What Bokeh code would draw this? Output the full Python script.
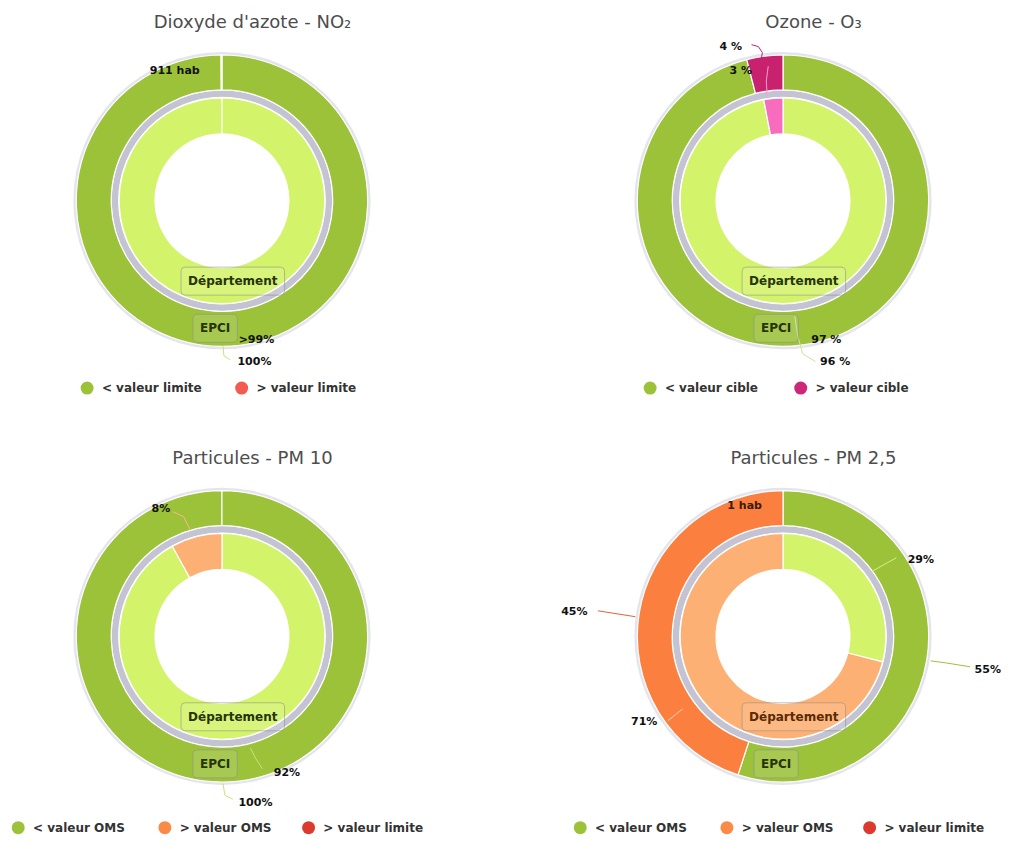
import math
from bokeh.plotting import figure
from bokeh.models import Range1d, Label
from bokeh.embed import file_html
from bokeh.resources import INLINE
from bokeh.core.properties import value

# ------------------------------------------------------------------ data
titles = ["Dioxyde d'azote - NO₂", "Ozone - O₃", "Particules - PM 10", "Particules - PM 2,5"]

no2_cats = ["< valeur limite", "> valeur limite"]
no2_epci = [99.9, 0.1]          # outer ring (EPCI)
no2_dept = [100.0, 0.0]         # inner ring (Département)

o3_cats = ["< valeur cible", "> valeur cible"]
o3_epci = [96.0, 4.0]
o3_dept = [97.0, 3.0]

pm_cats = ["< valeur OMS", "> valeur OMS", "> valeur limite"]
pm10_epci = [100.0, 0.0, 0.0]
pm10_dept = [92.0, 8.0, 0.0]
pm25_epci = [55.0, 45.0, 0.0]
pm25_dept = [29.0, 71.0, 0.0]

ring_names = ["Département", "EPCI"]

no2_labels = ["911 hab", ">99%", "100%"]
o3_labels = ["4 %", "3 %", "97 %", "96 %"]
pm10_labels = ["8%", "92%", "100%"]
pm25_labels = ["1 hab", "29%", "55%", "45%", "71%"]

# ------------------------------------------------------------------ styles / layout
FONT = "DejaVu Sans"
G_OUT, G_IN = "#9cc23a", "#d3f36b"
R_OUT, R_IN = "#f25c50", "#f7857c"
M_OUT, M_IN = "#c8216e", "#f86cbd"
O_OUT, O_IN = "#fb8040", "#fdb073"
L_OUT, L_IN = "#dc3a2e", "#e85a4f"

R_HOLE, R_IN_OUT = 68, 104.5
R_BAND0, R_BAND1 = 105.5, 112
R_OUT_IN, R_OUT_OUT = 112.5, 148

charts = [
    dict(title=titles[0], c=(225, 204), cats=no2_cats, outer=no2_epci, inner=no2_dept,
         oc=[G_OUT, R_OUT], ic=[G_IN, R_IN], lc=[G_OUT, "#f35a50"], leg_dx=[-137, 20], leg_y=395,
         labels=no2_labels, lab_xy=[(-48, -133), (35, 141), (33, 164)],
         lab_col=["#111111"] * 3,
         conn=[([(1, 148), (2, 158), (8, 162)], "#c9e27a")],
         dept_txt="#27330a", epci_txt="#27330a"),
    dict(title=titles[1], c=(795, 204), cats=o3_cats, outer=o3_epci, inner=o3_dept,
         oc=[G_OUT, M_OUT], ic=[G_IN, M_IN], lc=[G_OUT, "#cc2779"], leg_dx=[-135, 18], leg_y=395,
         labels=o3_labels, lab_xy=[(-53, -157), (-43, -133), (44, 141), (53, 164)],
         lab_col=["#111111"] * 4,
         conn=[([(-32, -159), (-25, -157), (-21, -151), (-22, -144)], M_OUT),
               ([(-15, -137), (-17, -122), (-16, -107)], "#f7a0cf"),
               ([(12, 118), (15, 138), (20, 156), (33, 164)], "#cfe39a")],
         dept_txt="#27330a", epci_txt="#27330a"),
    dict(title=titles[2], c=(225, 648), cats=pm_cats, outer=pm10_epci, inner=pm10_dept,
         oc=[G_OUT, O_OUT, L_OUT], ic=[G_IN, O_IN, L_IN], lc=[G_OUT, "#f98b47", "#dc3a2e"],
         leg_dx=[-207, -58, 88], leg_y=843,
         labels=pm10_labels, lab_xy=[(-62, -130), (66, 139), (34, 169)],
         lab_col=["#111111"] * 3,
         conn=[([(-50, -127), (-39, -122), (-32, -108)], "#f8b98a"),
               ([(29, 114), (34, 124), (41, 135)], "#c9e27a"),
               ([(1, 150), (3, 162), (11, 166)], "#c9e27a")],
         dept_txt="#27330a", epci_txt="#27330a"),
    dict(title=titles[3], c=(795, 648), cats=pm_cats, outer=pm25_epci, inner=pm25_dept,
         oc=[G_OUT, O_OUT, L_OUT], ic=[G_IN, O_IN, L_IN], lc=[G_OUT, "#f98b47", "#dc3a2e"],
         leg_dx=[-206, -57, 88], leg_y=843,
         labels=pm25_labels, lab_xy=[(-39, -133), (140, -78), (208, 34), (-212, -25), (-141, 87)],
         lab_col=["#3a1a05", "#111111", "#111111", "#111111", "#111111"],
         conn=[([(90, -66), (115, -80)], "#d8f07a"),
               ([(150, 25), (165, 27), (190, 31)], G_OUT),
               ([(-188, -26), (-150, -20)], "#e8603a"),
               ([(-117, 86), (-102, 74)], "#fcd2b0")],
         dept_txt="#5a2a05", epci_txt="#27330a"),
]

# ------------------------------------------------------------------ figure
p = figure(width=1002, height=836, output_backend="svg", toolbar_location=None,
           x_range=Range1d(0, 1018), y_range=Range1d(-852, 0),
           x_axis_type=None, y_axis_type=None, min_border=0,
           background_fill_color="white", border_fill_color="white")
p.outline_line_color = None
p.grid.visible = False


def ring(cx, cy, vals, colors, r0, r1):
    tot = float(sum(vals))
    cum = 0.0
    xs, ys, st, en, col = [], [], [], [], []
    for v, c in zip(vals, colors):
        if v <= 0:
            continue
        f0 = cum / tot
        cum += v
        f1 = min(cum / tot, f0 + 0.9998)
        st.append(math.pi / 2 - 2 * math.pi * f0)
        en.append(math.pi / 2 - 2 * math.pi * f1)
        xs.append(cx)
        ys.append(-cy)
        col.append(c)
    p.annular_wedge(x=xs, y=ys, inner_radius=r0, outer_radius=r1,
                    start_angle=st, end_angle=en, direction="clock",
                    fill_color=col, line_color="white", line_width=1.2)


for ch in charts:
    cx, cy = ch["c"]
    # soft shadow around pie
    p.annulus(x=[cx], y=[-cy], inner_radius=R_OUT_OUT - 1, outer_radius=R_OUT_OUT + 3,
              fill_color="#c4c4d6", fill_alpha=0.45, line_color=None)
    # grey band between rings
    p.annulus(x=[cx], y=[-cy], inner_radius=R_BAND0, outer_radius=R_BAND1,
              fill_color="#c3c3d3", line_color=None)
    ring(cx, cy, ch["outer"], ch["oc"], R_OUT_IN, R_OUT_OUT)
    ring(cx, cy, ch["inner"], ch["ic"], R_HOLE, R_IN_OUT)

    # title
    p.text(x=[cx + 31], y=[-(cy - 183 if cy < 400 else cy - 182)], text=[ch["title"]],
           text_font=value(FONT), text_font_size="18px", text_color="#4d4d4d",
           text_align="center", text_baseline="middle")

    # connectors
    for pts, colr in ch["conn"]:
        p.line(x=[cx + a for a, b in pts], y=[-(cy + b) for a, b in pts],
               line_color=colr, line_width=1)

    # data labels
    p.text(x=[cx + a for a, b in ch["lab_xy"]], y=[-(cy + b) for a, b in ch["lab_xy"]],
           text=ch["labels"], text_color=ch["lab_col"],
           text_font=value(FONT), text_font_size="11px", text_font_style="bold",
           text_align="center", text_baseline="middle")

    # ring name boxes
    for name, dx, dy, tc in [(ring_names[0], 11, 82, ch["dept_txt"]),
                             (ring_names[1], -7, 130, ch["epci_txt"])]:
        p.add_layout(Label(x=cx + dx, y=-(cy + dy), text=name, text_font=FONT,
                           text_font_size="12px", text_font_style="bold", text_color=tc,
                           text_align="center", text_baseline="middle",
                           background_fill_color="white", background_fill_alpha=0.12,
                           border_line_color="#8c8c8c", border_line_alpha=0.55,
                           border_radius=4, padding=7))

    # legend
    ly = ch["leg_y"]
    p.scatter(x=[cx + d for d in ch["leg_dx"]], y=[-ly] * len(ch["leg_dx"]),
              marker="circle", size=13, fill_color=ch["lc"], line_color=None)
    p.text(x=[cx + d + 15 for d in ch["leg_dx"]], y=[-ly] * len(ch["leg_dx"]),
           text=ch["cats"], text_font=value(FONT), text_font_size="12px",
           text_font_style="bold", text_color="#333333",
           text_align="left", text_baseline="middle")

open("out.html", "w").write(file_html(p, INLINE))
